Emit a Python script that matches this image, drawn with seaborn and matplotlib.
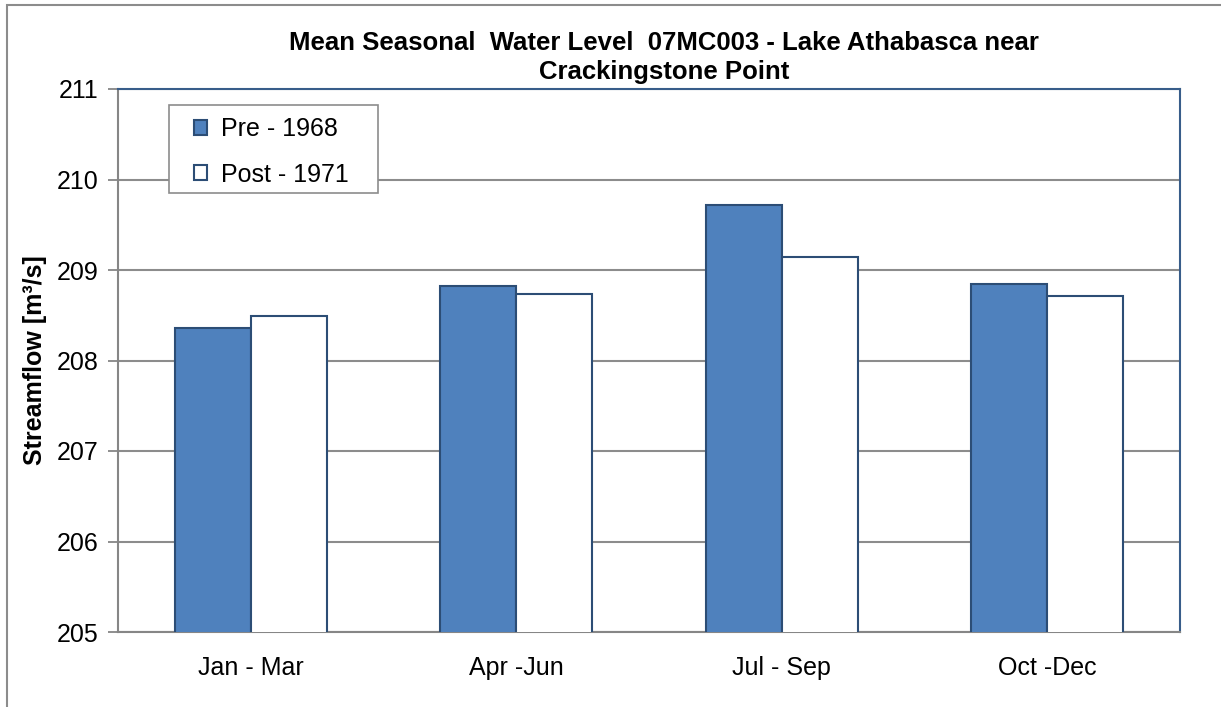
import matplotlib
matplotlib.use("Agg")
import matplotlib.pyplot as plt
import seaborn as sns
import pandas as pd
from matplotlib.patches import Rectangle

seasons = ["Jan - Mar", "Apr -Jun", "Jul - Sep", "Oct -Dec"]
pre_1968 = [208.36, 208.82, 209.72, 208.85]
post_1971 = [208.49, 208.74, 209.14, 208.71]
series_names = ["Pre - 1968", "Post - 1971"]
y_ticks = [205, 206, 207, 208, 209, 210, 211]
title = "Mean Seasonal  Water Level  07MC003 - Lake Athabasca near\nCrackingstone Point"
y_label = "Streamflow [m³/s]"

df = pd.DataFrame({
    "season": seasons * 2,
    "level": pre_1968 + post_1971,
    "period": [series_names[0]] * 4 + [series_names[1]] * 4,
})

sns.set_theme(style="white")
plt.rcParams["font.family"] = ["Liberation Sans", "DejaVu Sans"]
plt.rcParams["text.color"] = "black"
plt.rcParams["axes.labelcolor"] = "black"
plt.rcParams["xtick.color"] = "black"
plt.rcParams["ytick.color"] = "black"

W, H = 1221, 707
fig = plt.figure(figsize=(W / 100, H / 100), dpi=100)
ax = fig.add_axes([118 / W, 1 - 632 / H, (1180 - 118) / W, (632 - 89) / H])

blue = "#4F81BD"
sns.barplot(data=df, x="season", y="level", hue="period", hue_order=series_names,
            palette=[blue, "#FFFFFF"], saturation=1, width=0.573, gap=0, ax=ax,
            edgecolor="#2C4D75", linewidth=1.5, legend=True, zorder=3)

ax.set_ylim(205, 211)
ax.set_yticks(y_ticks)
ax.set_yticklabels([str(t) for t in y_ticks], fontsize=18)
ax.tick_params(axis="x", labelsize=18, length=0, pad=17)
ax.tick_params(axis="y", direction="out", length=7, width=1.3, color="#868686",
               labelcolor="black", pad=7, left=True)
ax.set_xlabel("")
ax.set_ylabel(y_label, fontsize=18, fontweight="bold", color="black")
ax.yaxis.set_label_coords(-71 / (1180 - 118), 0.5)

ax.grid(axis="y", color="#8C8C8C", linewidth=1.5, zorder=0)
ax.set_axisbelow(True)
for side in ["top", "right"]:
    ax.spines[side].set_color("#385D8A")
    ax.spines[side].set_linewidth(1.5)
for side in ["left", "bottom"]:
    ax.spines[side].set_color("#868686")
    ax.spines[side].set_linewidth(1.5)

handles, labels = ax.get_legend_handles_labels()
leg = ax.legend(handles, labels, loc="upper left",
                bbox_to_anchor=(186 / W, 1 - 110 / H), bbox_transform=fig.transFigure,
                fontsize=18, frameon=False,
                handlelength=0.55, handleheight=0.55, handletextpad=0.55,
                labelspacing=0.85, borderpad=0.3, borderaxespad=0)
leg.set_zorder(10)
# legend box (Excel-style frame)
ax.add_patch(Rectangle((169 / W, 1 - 193 / H), (378 - 169) / W, (193 - 105) / H,
                       transform=fig.transFigure, facecolor="white", clip_on=False,
                       edgecolor="#8C8C8C", linewidth=1.2, zorder=8))

fig.text(664 / W, 1 - 31 / H, title, ha="center", va="top", fontsize=18.5,
         fontweight="bold", linespacing=1.25, color="black")

fig.patches.append(Rectangle((7 / W, -0.1), 1.2, 1 - 5 / H + 0.1, transform=fig.transFigure,
                             fill=False, edgecolor="#8C8C8C", linewidth=1.5))

fig.savefig("out.png", dpi=100)
